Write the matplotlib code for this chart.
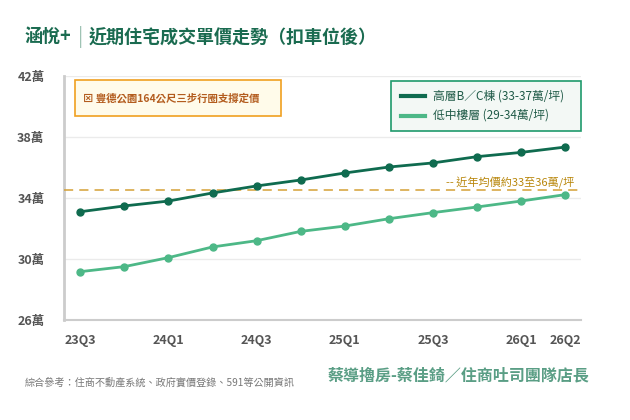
import matplotlib
matplotlib.use("Agg")
import matplotlib.pyplot as plt
from matplotlib.lines import Line2D

plt.rcParams['font.family'] = ['Noto Sans CJK TC', 'DejaVu Sans']

quarters = ['23Q3', '23Q4', '24Q1', '24Q2', '24Q3', '24Q4', '25Q1', '25Q2', '25Q3', '25Q4', '26Q1', '26Q2']
tick_labels = ['23Q3', '', '24Q1', '', '24Q3', '', '25Q1', '', '25Q3', '', '26Q1', '26Q2']
high_bc = [33.10, 33.48, 33.80, 34.33, 34.79, 35.18, 35.64, 36.03, 36.30, 36.71, 36.99, 37.34]
low_mid = [29.17, 29.50, 30.09, 30.79, 31.20, 31.81, 32.16, 32.64, 33.04, 33.41, 33.80, 34.22]
avg_ref = 34.5
y_ticks = [26, 30, 34, 38, 42]
y_tick_labels = ['26萬', '30萬', '34萬', '38萬', '42萬']
series_names = ['高層B／C棟 (33-37萬/坪)', '低中樓層 (29-34萬/坪)']

W, H = 630, 420
fig = plt.figure(figsize=(6.3, 4.2), dpi=100)
fig.patch.set_facecolor('white')
ax = fig.add_axes([64 / W, 1 - 320 / H, (581 - 64) / W, (320 - 76) / H])

dark = '#0f6b4f'
light = '#4db887'
x = list(range(len(quarters)))

ax.plot(x, high_bc, color=dark, lw=2, marker='o', ms=5, zorder=4)
ax.plot(x, low_mid, color=light, lw=2, marker='o', ms=5, zorder=4)
ax.axhline(avg_ref, color='#d4a035', lw=1.1, ls=(0, (6, 4)), zorder=3)

ax.set_xlim(-0.37, 11.36)
ax.set_ylim(26, 42)
ax.set_yticks(y_ticks)
ax.set_yticklabels(y_tick_labels)
ax.set_xticks(x)
ax.set_xticklabels(tick_labels)
ax.grid(axis='y', color='#ebebeb', lw=1)
ax.set_axisbelow(True)
ax.tick_params(axis='both', length=0)
ax.tick_params(axis='y', pad=14, labelsize=9, labelcolor='#555555')
ax.tick_params(axis='x', pad=10, labelsize=9, labelcolor='#555555')
for lab in ax.get_xticklabels() + ax.get_yticklabels():
    lab.set_fontweight('bold')
for s in ['top', 'right']:
    ax.spines[s].set_visible(False)
ax.spines['left'].set_color('#cccccc')
ax.spines['left'].set_linewidth(2)
ax.spines['bottom'].set_color('#cccccc')
ax.spines['bottom'].set_linewidth(1.5)

# reference line label
ax.text(11.2, avg_ref + 0.12, '-- 近年均價約33至36萬/坪', ha='right', va='bottom',
        fontsize=8, color='#b8860b', zorder=5)

# annotation box
fig.patches.append(plt.Rectangle((75 / W, 1 - 115.5 / H), (281 - 75) / W, (115.5 - 80.5) / H,
                                 transform=fig.transFigure, facecolor='#fffbea',
                                 edgecolor='#f0a020', lw=1.2, zorder=5))
fig.text(83 / W, 1 - 98 / H, '⊠ 豐德公園164公尺三步行圈支撐定價', fontsize=7.5, color='#b35c1e',
         va='center', ha='left', fontweight='bold', zorder=6)

# legend box
fig.patches.append(plt.Rectangle((391 / W, 1 - 130.5 / H), (581 - 391) / W, (130.5 - 80.5) / H,
                                 transform=fig.transFigure, facecolor='#f3f8f5',
                                 edgecolor='#1f9a6c', lw=1.2, zorder=5))
for i, (name, col) in enumerate(zip(series_names, [dark, light])):
    yy = 1 - (96 + i * 19.5) / H
    fig.lines.append(Line2D([401 / W, 425 / W], [yy, yy], transform=fig.transFigure,
                            color=col, lw=3, zorder=6))
    fig.text(433 / W, yy, name, fontsize=8.5, color='#1f5a47', va='center', ha='left', zorder=6)

# title
fig.text(25 / W, 1 - 37 / H, '涵悅+', fontsize=13, fontweight='bold', color='#1a6b50',
         va='center', ha='left')
fig.text(78 / W, 1 - 37 / H, '|', fontsize=14, color='#9fc3b4', va='center', ha='left')
fig.text(89 / W, 1 - 37 / H, '近期住宅成交單價走勢（扣車位後）', fontsize=13, fontweight='bold',
         color='#1a6b50', va='center', ha='left')

# footer
fig.text(25 / W, 1 - 383 / H, '綜合參考：住商不動產系統、政府實價登錄、591等公開資訊', fontsize=7.3,
         color='#777777', va='center', ha='left')
fig.text(589 / W, 1 - 375 / H, '蔡導擼房-蔡佳錡／住商吐司團隊店長', fontsize=11.5, fontweight='bold',
         color='#5a9e85', va='center', ha='right')

fig.savefig('out.png', dpi=100)
